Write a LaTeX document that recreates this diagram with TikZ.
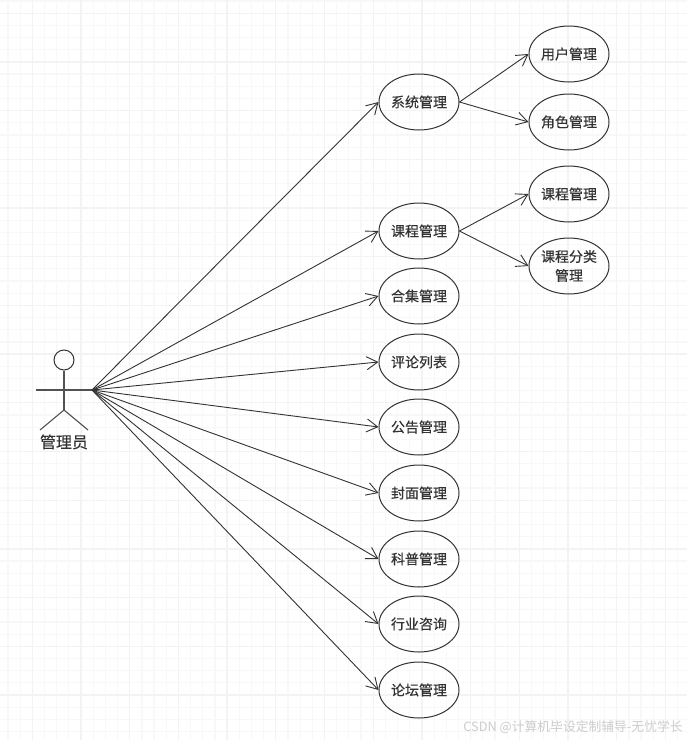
\documentclass[tikz,border=0pt]{standalone}
\usepackage{fontspec}
\setmainfont[FakeBold=0.25]{Noto Sans CJK SC}
\newfontfamily\markfont{Noto Sans CJK SC}
\usetikzlibrary{arrows.meta,shapes.geometric}
\definecolor{gridminor}{HTML}{F8F8F8}
\definecolor{gridmajor}{HTML}{F3F3F3}
\definecolor{ink}{HTML}{333333}
\tikzset{
  uc/.style={draw=ink,line width=1pt,ellipse,inner sep=0pt,minimum width=80pt,minimum height=56pt,align=center,font=\fontsize{14}{19}\selectfont,text=ink},
  link/.style={draw=ink,line width=0.9pt,-{Straight Barb[length=11pt,width=13pt,line width=0.9pt]}},
  stick/.style={draw=ink!85,line width=1.1pt}
}
\begin{document}
\begin{tikzpicture}[x=1pt,y=-1pt]
\useasboundingbox (0,0) rectangle (687,740);
\fill[white] (0,0) rectangle (687,740);
\foreach \i in {0,...,57}{\draw[gridminor,line width=1.2pt] ({-4.2+12.175*\i},0) -- ++(0,740);}
\foreach \i in {0,...,61}{\draw[gridminor,line width=1.2pt] (0,{1+12.175*\i}) -- ++(687,0);}
\foreach \i in {0,...,14}{\draw[gridmajor,line width=1.3pt] ({32.3+48.7*\i},0) -- ++(0,740);}
\foreach \i in {0,...,15}{\draw[gridmajor,line width=1.3pt] (0,{13.2+48.7*\i}) -- ++(687,0);}
% actor
\node (head) at (64,360) [draw=ink,line width=1pt,circle,minimum size=20pt,inner sep=0pt] {};
\coordinate (hip) at (64,410);
\coordinate (handL) at (36,390);
\coordinate (hand) at (92,390);
\coordinate (footL) at (40,430);
\coordinate (footR) at (88,430);
\draw[stick] (head.south) -- (hip);
\draw[stick] (handL) -- (hand);
\draw[stick] (footL) -- (hip) -- (footR);
\node (actorlabel) at (64,442) [font=\fontsize{16}{18}\selectfont,text=ink] {管理员};
% use cases
\node[uc] (a1) at (419,102) {系统管理};
\node[uc] (a2) at (419,231) {课程管理};
\node[uc] (a3) at (419,296) {合集管理};
\node[uc] (a4) at (419,362) {评论列表};
\node[uc] (a5) at (419,427) {公告管理};
\node[uc] (a6) at (419,493) {封面管理};
\node[uc] (a7) at (419,559) {科普管理};
\node[uc] (a8) at (419,624) {行业咨询};
\node[uc] (a9) at (419,690) {论坛管理};
\node[uc] (b1) at (569,54) {用户管理};
\node[uc] (b2) at (569,122) {角色管理};
\node[uc] (b3) at (569,194) {课程管理};
\node[uc] (b4) at (569,266) {课程分类\\管理};
\foreach \n in {a1,a2,a3,a4,a5,a6,a7,a8,a9}{\draw[link] (hand) -- (\n.west);}
\draw[link] (a1.east) -- (b1.west);
\draw[link] (a1.east) -- (b2.west);
\draw[link] (a2.east) -- (b3.west);
\draw[link] (a2.east) -- (b4.west);
\node (mark) at (573,727) [font=\markfont\fontsize{12.8}{14}\selectfont,text=black!20] {CSDN @计算机毕设定制辅导-无忧学长};
\end{tikzpicture}
\end{document}
